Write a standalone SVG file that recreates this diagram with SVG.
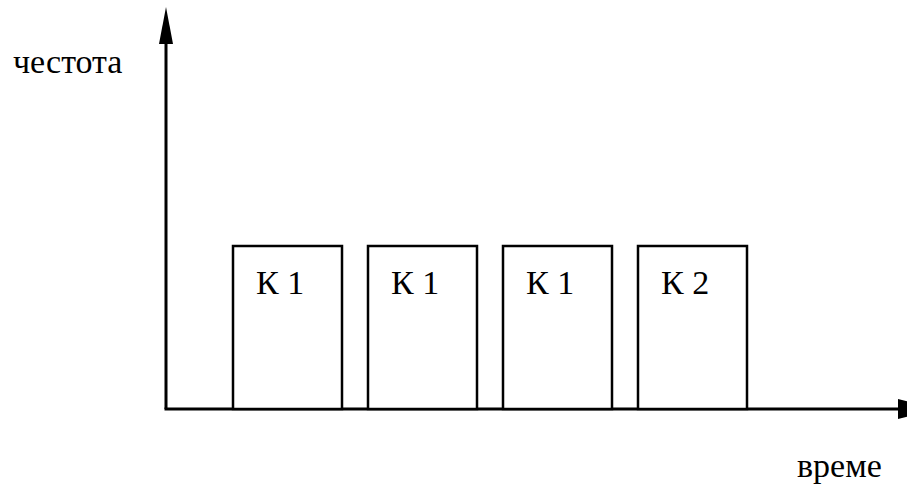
<svg xmlns="http://www.w3.org/2000/svg" width="907" height="489" viewBox="0 0 907 489">
<style>
text{font-size:34px;fill:#000}
.box{fill:#fff;stroke:#000;stroke-width:2.5}
.axis{stroke:#000;stroke-width:3;fill:none}
</style>
<rect width="907" height="489" fill="#fff"/>
<g id="connectors">
<line class="axis" x1="166" y1="409" x2="166" y2="40"/>
<polygon points="166,7 173,44 159,44" fill="#000"/>
<line class="axis" x1="164.5" y1="409" x2="900" y2="409"/>
<polygon points="936,409 898,399 898,419" fill="#000"/>
</g>
<g font-family="Liberation Serif, Times New Roman, serif">
<g id="label-freq"><text x="13" y="73">честота</text></g>
<g id="label-time"><text x="797" y="477">време</text></g>
<g id="k1a"><rect class="box" x="233" y="246" width="109" height="163"/><text x="256" y="294">К 1</text></g>
<g id="k1b"><rect class="box" x="368" y="246" width="109" height="163"/><text x="391" y="294">К 1</text></g>
<g id="k1c"><rect class="box" x="503" y="246" width="109" height="163"/><text x="526" y="294">К 1</text></g>
<g id="k2"><rect class="box" x="638" y="246" width="109" height="163"/><text x="661" y="294">К 2</text></g>
</g>
</svg>
